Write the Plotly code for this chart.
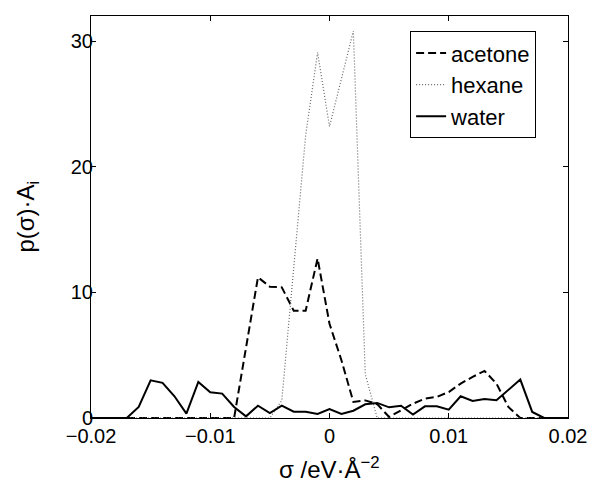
import plotly.graph_objects as go

sigma = [i / 1000 for i in range(-20, 21)]

acetone = [0, 0, 0, 0, 0, 0, 0, 0, 0, 0, 0, 0, 0,
           5.6, 11.2, 10.45, 10.4, 8.54, 8.54, 12.7, 7.5, 4.6, 1.28, 1.4, 1.1,
           0.08, 0.6, 1.14, 1.54, 1.68, 2.07, 2.74, 3.27, 3.75, 2.74, 0.88, 0, 0, 0, 0, 0]

hexane = [0] * 15 + [0, 1.4, 12.0, 22.5, 29.1, 23.2, 27.0, 30.8, 3.5, 0] + [0] * 16

water = [0, 0, 0, 0, 0.88, 3.0, 2.8, 1.73, 0.35, 2.87, 2.05, 1.94, 0.88, 0.13,
         0.98, 0.4, 0.98, 0.5, 0.5, 0.32, 0.72, 0.32, 0.58, 1.09, 1.2, 0.85, 0.98,
         0.27, 0.93, 0.93, 0.66, 1.73, 1.36, 1.52, 1.41, 2.2, 3.06, 0.48, 0, 0, 0]

x_ticks = [-0.02, -0.01, 0, 0.01, 0.02]
x_ticktext = ["\u22120.02", "\u22120.01", "0", "0.01", "0.02"]
y_ticks = [0, 10, 20, 30]

fig = go.Figure()
fig.add_trace(go.Scatter(x=sigma, y=acetone, mode="lines", name="acetone",
                         line=dict(color="black", width=2, dash="8px,4px")))
fig.add_trace(go.Scatter(x=sigma, y=hexane, mode="lines", name="hexane",
                         line=dict(color="#666666", width=1.2, dash="1px,2px")))
fig.add_trace(go.Scatter(x=sigma, y=water, mode="lines", name="water",
                         line=dict(color="black", width=2)))

font = "Liberation Sans, Arial, sans-serif"
fig.update_layout(
    width=608, height=486,
    margin=dict(l=83, r=48, t=8, b=76),
    paper_bgcolor="white", plot_bgcolor="white",
    font=dict(family=font, size=20, color="black"),
    showlegend=True,
    legend=dict(x=0.669, y=0.962, xanchor="left", yanchor="top",
                bordercolor="black", borderwidth=1, bgcolor="white",
                font=dict(size=22), tracegroupgap=0, itemwidth=30),
    xaxis=dict(range=[-0.02, 0.02], tickvals=x_ticks, ticktext=x_ticktext,
               showline=True, linecolor="black", linewidth=1, mirror="ticks",
               ticks="inside", ticklen=5, tickcolor="black", showgrid=False,
               zeroline=False, automargin=False),
    yaxis=dict(range=[0, 32], tickvals=y_ticks,
               showline=True, linecolor="black", linewidth=1, mirror="ticks",
               ticks="inside", ticklen=5, tickcolor="black", showgrid=False,
               zeroline=False, automargin=False, ticklabelstandoff=-7),
    annotations=[
        dict(text="\u03c3 /eV\u00b7\u00c5<sup>\u22122</sup>", x=0.5, y=-0.125,
             xref="paper", yref="paper", xanchor="center", yanchor="middle",
             showarrow=False, font=dict(size=24)),
        dict(text="p(\u03c3)\u00b7A<sub>i</sub>", x=-0.135, y=0.5,
             xref="paper", yref="paper", xanchor="center", yanchor="middle",
             textangle=-90, showarrow=False, font=dict(size=24)),
    ],
)

fig.write_html("out.html")
